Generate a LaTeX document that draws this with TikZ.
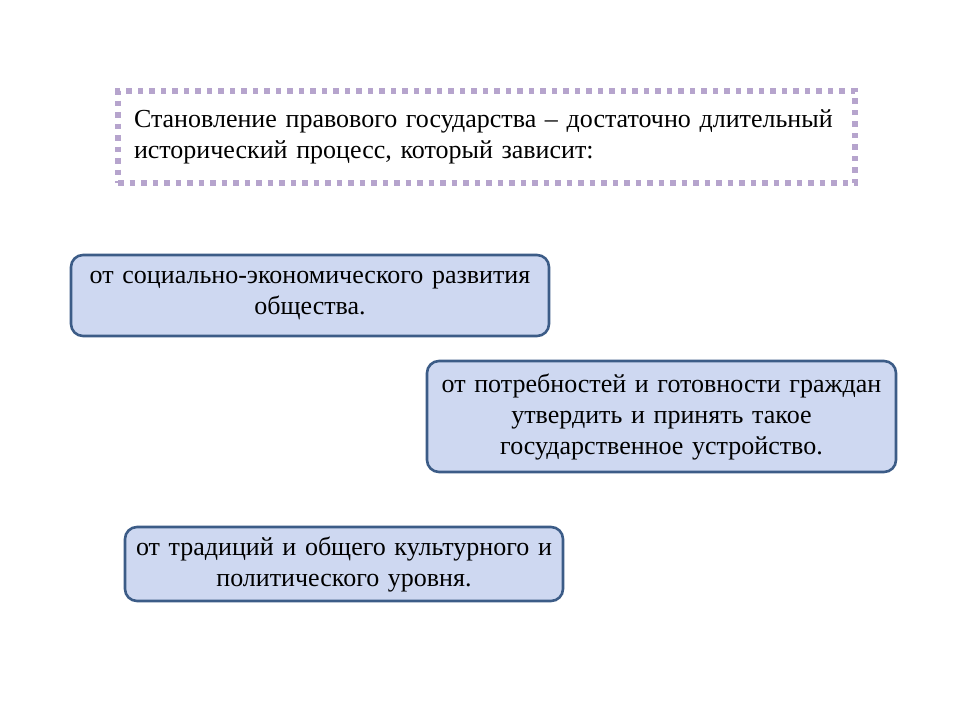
\documentclass[tikz,border=0pt]{standalone}
\usepackage{fontspec}
\setmainfont{Liberation Serif}
\definecolor{dotlilac}{RGB}{182,164,205}
\definecolor{boxedge}{RGB}{60,92,135}
\definecolor{boxfill}{RGB}{206,216,241}
\tikzset{
	intro/.style={draw=dotlilac, line width=5.5pt, dash pattern=on 5.5pt off 6pt,
		minimum width=737pt, minimum height=92pt, text width=705pt, inner xsep=16pt, align=left,
		font=\fontsize{26}{31}\selectfont},
	factor/.style={draw=boxedge, fill=boxfill, line width=2.6pt, rounded corners=12pt,
		align=center, font=\fontsize{26}{31}\selectfont, inner sep=0pt}
}
\begin{document}
\begin{tikzpicture}[x=1pt, y=-1pt]
	\useasboundingbox (0,0) rectangle (960,720);

	\node[intro] (head) at (486.5,137) {Становление правового государства -- достаточно длительный\\исторический процесс, который зависит:};

	\node[factor, minimum width=478pt, minimum height=81pt, text width=470pt] (econ) at (310,295.5) {от социально-экономического развития\\общества.};
	\node[factor, minimum width=469pt, minimum height=111pt, text width=460pt] (needs) at (661.5,416.5) {от потребностей и готовности граждан\\утвердить и принять такое\\государственное устройство.};
	\node[factor, minimum width=438pt, minimum height=74pt, text width=430pt] (culture) at (344,564) {от традиций и общего культурного и\\политического уровня.};

\end{tikzpicture}
\end{document}
